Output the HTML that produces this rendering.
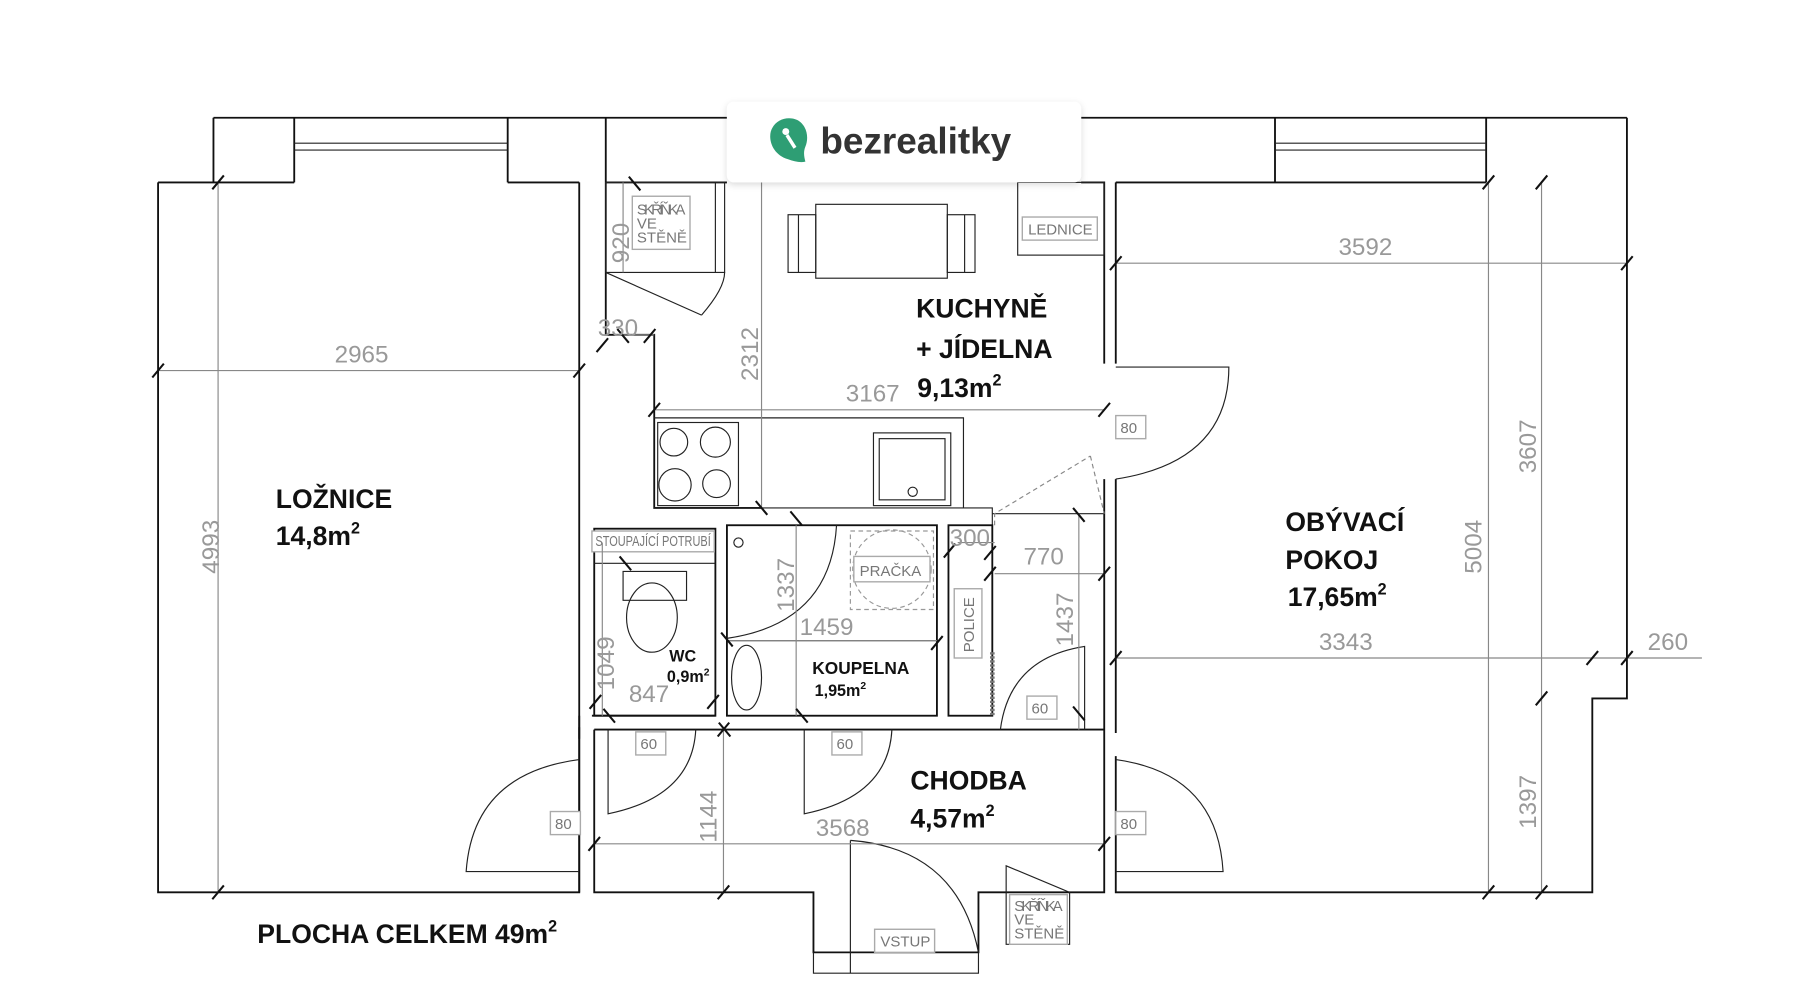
<!DOCTYPE html>
<html><head><meta charset="utf-8"><style>
html,body{margin:0;padding:0;background:#fff;width:1800px;height:1002px;overflow:hidden}
svg{display:block}
.w{fill:none;stroke:#111;stroke-width:1.6}
.t{fill:none;stroke:#222;stroke-width:1}
.d{fill:none;stroke:#888;stroke-width:1}
.tk{stroke:#111;stroke-width:1.8}
.dt{font-family:"Liberation Sans",sans-serif;fill:#999;font-size:21px}
.lb{font-family:"Liberation Sans",sans-serif;font-weight:bold;fill:#111;font-size:23px}
.sm{font-family:"Liberation Sans",sans-serif;fill:#777;font-size:13px}
.bx{fill:#fff;stroke:#aaa;stroke-width:1.2}
</style></head><body>
<svg width="1800" height="1002" viewBox="0 0 1560 868" preserveAspectRatio="none">
<defs><filter id="sh" x="-10%" y="-30%" width="120%" height="160%"><feDropShadow dx="0" dy="2" stdDeviation="3" flood-color="#000" flood-opacity="0.15"/></filter></defs>
<line class="w" x1="185" y1="102" x2="630" y2="102"/><line class="w" x1="937" y1="102" x2="1410" y2="102"/>
<path class="w" d="M185 102V158 M255 102V158 M440 102V158 M525 102V158 M1105 102V158 M1288 102V158"/>
<path class="t" d="M255 124H440 M255 130H440 M1105 124H1288 M1105 130H1288"/>
<path class="w" d="M137 158H255 M440 158H502 M137 158V773H502V158"/>
<path class="w" d="M525 158H630 M525 158V290H567V440H660 M937 158H957V315 M957 415V635"/>
<path class="w" d="M967 158H1288 M967 158V315 M967 415V635 M967 655V773H1380V605H1410V102"/>
<path class="w" d="M502 620V773 M515 632V773H705V825H848V773H957V655 M515 632H957 M957 635V655"/>
<path class="w" d="M502 630V640 M513 620H620"/>
<path class="t" d="M567 362H835V440H567 M567 440H860V455 M860 445H957"/>
<rect class="t" x="570" y="366" width="70" height="72"/>
<circle class="t" cx="584" cy="383" r="12"/><circle class="t" cx="620" cy="383" r="13"/><circle class="t" cx="585" cy="420" r="14"/><circle class="t" cx="621" cy="419" r="12"/>
<rect class="t" x="757" y="375" width="67" height="63"/><rect class="t" x="762" y="380" width="57" height="53"/><circle class="t" cx="791" cy="426" r="4"/>
<rect class="t" x="707" y="177" width="114" height="64"/><rect class="t" x="683" y="186" width="24" height="50"/><rect class="t" x="821" y="186" width="24" height="50"/>
<path class="t" d="M692 186V236 M836 186V236"/>
<rect class="t" x="882" y="158" width="75" height="63"/>
<rect class="bx" x="886" y="188" width="65" height="20"/><text class="sm" x="891" y="203" textLength="56">LEDNICE</text>
<rect class="t" x="525" y="158" width="103" height="78"/><path class="t" d="M620 158V236 M525 236L608 273 M608 273Q628 250 628 236"/>
<rect class="bx" x="548" y="170" width="50" height="46"/><text class="sm" x="552" y="186" font-size="9" textLength="42">SKŘÍŇKA</text><text class="sm" x="552" y="198" font-size="9">VE</text><text class="sm" x="552" y="210" font-size="9">STĚNĚ</text>
<rect class="w" x="515" y="458" width="105" height="162"/>
<rect class="bx" x="513" y="460" width="106" height="18"/><text class="sm" x="516" y="473" font-size="10" textLength="100" lengthAdjust="spacingAndGlyphs">STOUPAJÍCÍ POTRUBÍ</text>
<path class="t" d="M515 488H620 M540 495H595V520H540Z"/><ellipse class="t" cx="565" cy="535" rx="22" ry="30"/>
<rect class="w" x="630" y="455" width="182" height="165"/>
<path class="t" d="M630 555H812 M630 553Q720 540 725 455"/><circle class="t" cx="640" cy="470" r="4"/>
<ellipse class="t" cx="647" cy="587" rx="13" ry="28"/>
<rect x="737" y="460" width="72" height="68" fill="none" stroke="#999" stroke-dasharray="4 3"/>
<circle cx="773" cy="493" r="34" fill="none" stroke="#999" stroke-dasharray="4 3"/>
<rect class="bx" x="740" y="482" width="66" height="22"/><text class="sm" x="745" y="499" font-size="14">PRAČKA</text>
<rect class="w" x="822" y="455" width="38" height="165"/>
<rect class="bx" x="827" y="510" width="24" height="60"/><text class="sm" transform="translate(844 565) rotate(-90)" font-size="12">POLICE</text>
<path d="M860 565V620" stroke="#777" stroke-width="4" stroke-dasharray="2 1.5"/>
<path d="M862 455V445L945 395" stroke="#888" fill="none" stroke-dasharray="4 3"/>
<path d="M945 395L957 445" stroke="#888" fill="none" stroke-dasharray="4 3"/>
<path class="t" d="M967 318H1065Q1065 400 967 415"/><path class="t" d="M502 658Q410 670 404 755H502"/>
<path class="t" d="M967 658Q1055 670 1060 755H967"/><path class="t" d="M527 632V705Q600 690 603 632"/>
<path class="t" d="M697 632V705Q770 690 773 632"/><path class="t" d="M867 632Q875 570 940 560V632"/>
<path class="t" d="M737 728V843 M737 728Q830 735 848 825 M705 825V843H848V825"/>
<path class="t" d="M872 750L927 773V818H872Z"/>
<g font-size="13"><rect class="bx" x="967" y="360" width="26" height="20"/><text class="sm" x="971" y="375">80</text>
<rect class="bx" x="477" y="703" width="26" height="20"/><text class="sm" x="481" y="718">80</text>
<rect class="bx" x="967" y="703" width="26" height="20"/><text class="sm" x="971" y="718">80</text>
<rect class="bx" x="551" y="634" width="26" height="20"/><text class="sm" x="555" y="649">60</text>
<rect class="bx" x="721" y="634" width="26" height="20"/><text class="sm" x="725" y="649">60</text>
<rect class="bx" x="890" y="603" width="26" height="20"/><text class="sm" x="894" y="618">60</text>
<rect class="bx" x="758" y="805" width="52" height="20"/><text class="sm" x="763" y="820">VSTUP</text>
<rect class="bx" x="875" y="775" width="50" height="43"/><text class="sm" x="879" y="789" font-size="9" textLength="42">SKŘÍŇKA</text><text class="sm" x="879" y="801" font-size="9">VE</text><text class="sm" x="879" y="813" font-size="9">STĚNĚ</text></g>
<path class="d" d="M137 321H502 M189 158V773 M967 228H1410 M967 570H1475 M1290 158V773 M1336 158V773 M567 355H957 M660 158V440 M627 632V773 M515 731H957 M540 290H567 M540 158V236 M522 470V620 M690 455V620 M630 555H812 M862 497H957 M935 445V632 M830 470H862"/>
<g class="tk">
<path d="M132 327L142 315 M497 327L507 315 M184 164L194 152 M184 779L194 767 M962 234L972 222 M1405 234L1415 222 M962 576L972 564 M1375 576L1385 564 M1405 576L1415 564 M1285 164L1295 152 M1285 779L1295 767 M1331 164L1341 152 M1331 611L1341 599 M1331 779L1341 767 M562 361L572 349 M952 361L962 349 M510 737L520 725 M952 737L962 725 M622 638L632 626 M622 779L632 767 M655 434L665 446 M685 443L695 455 M545 153L555 165 M535 285L545 297 M558 297L568 285 M517 305L527 293 M537 482L547 494 M511 614L521 602 M523 614L533 626 M613 614L623 602 M623 626L633 638 M690 614L700 626 M807 563L817 551 M818 483L828 471 M853 485L863 473 M853 503L863 491 M952 503L962 491 M930 440L940 452 M930 612L940 624 M625 548L635 560"/>
</g>
<g class="dt">
<text x="290" y="314">2965</text><text x="1160" y="221">3592</text><text x="1143" y="563">3343</text><text x="1428" y="563">260</text>
<text x="733" y="348">3167</text><text x="518" y="291">330</text><text x="707" y="724">3568</text>
<text x="545" y="608">847</text><text x="693" y="550">1459</text><text x="887" y="489">770</text><text x="823" y="473">300</text>
<text transform="translate(190 497) rotate(-90)">4993</text><text transform="translate(1284 497) rotate(-90)">5004</text>
<text transform="translate(1331 410) rotate(-90)">3607</text><text transform="translate(1331 718) rotate(-90)">1397</text>
<text transform="translate(657 330) rotate(-90)">2312</text><text transform="translate(545 228) rotate(-90)">920</text>
<text transform="translate(621 730) rotate(-90)">1144</text><text transform="translate(532 598) rotate(-90)">1049</text>
<text transform="translate(688 530) rotate(-90)">1337</text><text transform="translate(930 560) rotate(-90)">1437</text>
</g>
<g class="lb">
<text x="794" y="275">KUCHYNĚ</text><text x="794" y="310">+ JÍDELNA</text><text x="795" y="344">9,13m<tspan font-size="14" dy="-10">2</tspan></text>
<text x="239" y="440">LOŽNICE</text><text x="239" y="472">14,8m<tspan font-size="14" dy="-10">2</tspan></text>
<text x="1114" y="460">OBÝVACÍ</text><text x="1114" y="493">POKOJ</text><text x="1116" y="525">17,65m<tspan font-size="14" dy="-10">2</tspan></text>
<text x="789" y="684">CHODBA</text><text x="789" y="717">4,57m<tspan font-size="14" dy="-10">2</tspan></text>
<text x="223" y="817">PLOCHA CELKEM 49m<tspan font-size="14" dy="-10">2</tspan></text>
<text x="580" y="573" font-size="14">WC</text><text x="578" y="591" font-size="14">0,9m<tspan font-size="9" dy="-6">2</tspan></text>
<text x="704" y="584" font-size="15">KOUPELNA</text><text x="706" y="603" font-size="14">1,95m<tspan font-size="9" dy="-6">2</tspan></text>
</g>
<rect x="630" y="88" width="307" height="70" rx="6" fill="#fff" filter="url(#sh)"/>
<path d="M683 138C670 134 666 122 668 114C671 104 682 100 691 104C700 109 701 120 698 127C696 132 697 136 698 140C694 141 688 140 683 138Z" fill="#2e9e74"/>
<circle cx="681" cy="114" r="3" fill="#fff"/><path d="M682 117L689 128" stroke="#fff" stroke-width="3"/>
<text x="711" y="133" font-family="Liberation Sans,sans-serif" font-weight="bold" font-size="32" fill="#333">bezrealitky</text>
</svg>
</body></html>
